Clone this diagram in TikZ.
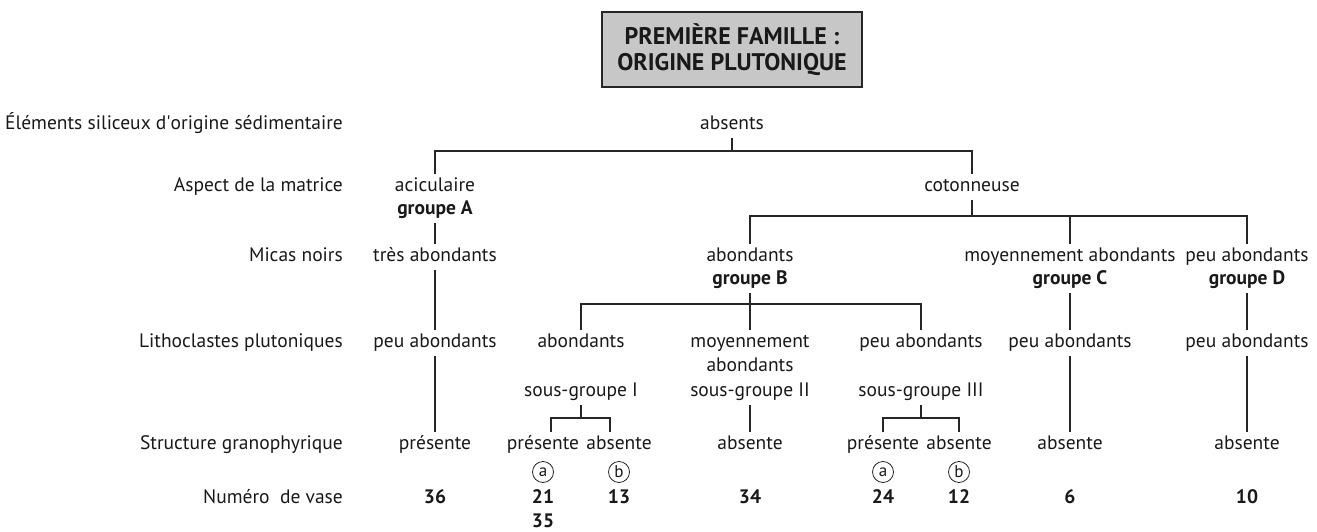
\documentclass[tikz,border=0pt]{standalone}
\usepackage{fontspec}
\setmainfont{PT Sans}
\begin{document}
\begin{tikzpicture}[x=1pt,y=-1pt]
  \def\xlab{343}   % right edge of the row labels
  \def\xA{435}     % groupe A
  \def\xB{750}     % groupe B
  \def\xC{1070}    % groupe C
  \def\xD{1247}    % groupe D
  \def\xI{581}     % sous-groupe I
  \def\xIII{921}   % sous-groupe III
  \def\dx{38}      % half spacing presente / absente

  \tikzstyle{every node}=[font=\fontsize{19.5}{22}\selectfont,text=black!90]
  \tikzstyle{lab}=[anchor=east,inner sep=0pt,text height=13pt,text depth=4pt]
  \tikzstyle{val}=[inner sep=4pt,text height=13pt,text depth=4pt]
  \tikzstyle{grp}=[val,font=\fontsize{19.5}{22}\selectfont\bfseries]
  \tikzstyle{num}=[val,font=\fontsize{19.5}{22}\selectfont\bfseries]
  \tikzstyle{circ}=[circle,draw=black!85,line width=0.8pt,inner sep=0pt,
    minimum size=21pt,font=\fontsize{17}{17}\selectfont]
  \tikzstyle{link}=[line width=1.3pt,draw=black!85]
  \tikzstyle{titre}=[draw=black!85,line width=1.2pt,fill=black!22,align=center,
    minimum width=260pt,minimum height=75pt,
    font=\fontsize{24}{26}\selectfont\bfseries]

  \useasboundingbox (0,0) rectangle (1317,532);

  % TITLE
  \node[titre] (titre) at (732,49.5) {PREMIÈRE FAMILLE :\\ORIGINE PLUTONIQUE};

  % ROW LABELS
  \node[lab] (lElem) at (\xlab,125) {Éléments siliceux d\textquotesingle origine sédimentaire};
  \node[lab] (lAsp)  at (\xlab,187) {Aspect de la matrice};
  \node[lab] (lMic)  at (\xlab,257) {Micas noirs};
  \node[lab] (lLit)  at (\xlab,343) {Lithoclastes plutoniques};
  \node[lab] (lStr)  at (\xlab,445) {Structure granophyrique};
  \node[lab] (lNum)  at (\xlab,499) {Numéro\ \ de vase};

  % MATRIX
  \node[val] (absents) at (732,125) {absents};
  \node[val] (acic)  at (\xA,187) {aciculaire};
  \node[grp] (grpA)  at (\xA,210) {groupe A};
  \node[val] (coton) at (972,187) {cotonneuse};

  % MICAS NOIRS
  \node[val] (tresA) at (\xA,257) {très abondants};
  \node[val] (abB)   at (\xB,257) {abondants};
  \node[grp] (grpB)  at (\xB,280) {groupe B};
  \node[val] (moyC)  at (\xC,257) {moyennement abondants};
  \node[grp] (grpC)  at (\xC,280) {groupe C};
  \node[val] (peuD)  at (\xD,257) {peu abondants};
  \node[grp] (grpD)  at (\xD,280) {groupe D};

  % LITHOCLASTES
  \node[val] (peuA)   at (\xA,343) {peu abondants};
  \node[val] (abI)    at (\xI,343) {abondants};
  \node[val] (sgI)    at (\xI,392) {sous-groupe I};
  \node[val] (moyII)  at (\xB,343) {moyennement};
  \node[val] (abII)   at (\xB,367) {abondants};
  \node[val] (sgII)   at (\xB,392) {sous-groupe II};
  \node[val] (peuIII) at (\xIII,343) {peu abondants};
  \node[val] (sgIII)  at (\xIII,392) {sous-groupe III};
  \node[val] (peuC)   at (\xC,343) {peu abondants};
  \node[val] (peuD2)  at (\xD,343) {peu abondants};

  % STRUCTURE
  \node[val] (preA)   at (\xA,445) {présente};
  \node[val] (preI)   at (\xI-\dx,445) {présente};
  \node[val] (absI)   at (\xI+\dx,445) {absente};
  \node[val] (absII)  at (\xB,445) {absente};
  \node[val] (preIII) at (\xIII-\dx,445) {présente};
  \node[val] (absIII) at (\xIII+\dx,445) {absente};
  \node[val] (absC)   at (\xC,445) {absente};
  \node[val] (absD)   at (\xD,445) {absente};
  \node[circ] (aI)   at (\xI-\dx,472) {a};
  \node[circ] (bI)   at (\xI+\dx,472) {b};
  \node[circ] (aIII) at (\xIII-\dx,472) {a};
  \node[circ] (bIII) at (\xIII+\dx,472) {b};

  % NUMERO DE VASE
  \node[num] (n36) at (\xA,499) {36};
  \node[num] (n21) at (\xI-\dx,499) {21};
  \node[num] (n35) at (\xI-\dx,523) {35};
  \node[num] (n13) at (\xI+\dx,499) {13};
  \node[num] (n34) at (\xB,499) {34};
  \node[num] (n24) at (\xIII-\dx,499) {24};
  \node[num] (n12) at (\xIII+\dx,499) {12};
  \node[num] (n6)  at (\xC,499) {6};
  \node[num] (n10) at (\xD,499) {10};

  % BRANCHES
  \coordinate (j0)   at (732,151);
  \coordinate (jC)   at (972,216);
  \coordinate (jB)   at (\xB,304);
  \coordinate (jI)   at (\xI,418);
  \coordinate (jIII) at (\xIII,418);

  \draw[link] (absents) -- (j0);
  \draw[link] (acic.north) |- (j0) -| (coton.north);
  \draw[link] (grpA) -- (tresA);
  \draw[link] (coton) -- (jC);
  \draw[link] (abB.north) |- (jC) -| (peuD.north);
  \draw[link] (moyC.north) -- (moyC.north |- jC);
  \draw[link] (tresA) -- (peuA);
  \draw[link] (grpB) -- (moyII);
  \draw[link] (abI.north) |- (jB) -| (peuIII.north);
  \draw[link] (grpC) -- (peuC);
  \draw[link] (grpD) -- (peuD2);
  \draw[link] (peuA) -- (preA);
  \draw[link] (sgI) -- (jI);
  \draw[link] ([xshift=8pt]preI.north) |- (jI) -| ([xshift=-9pt]absI.north);
  \draw[link] (sgII) -- (absII);
  \draw[link] (sgIII) -- (jIII);
  \draw[link] (preIII.north) |- (jIII) -| (absIII.north);
  \draw[link] (peuC) -- (absC);
  \draw[link] (peuD2) -- (absD);
\end{tikzpicture}
\end{document}
